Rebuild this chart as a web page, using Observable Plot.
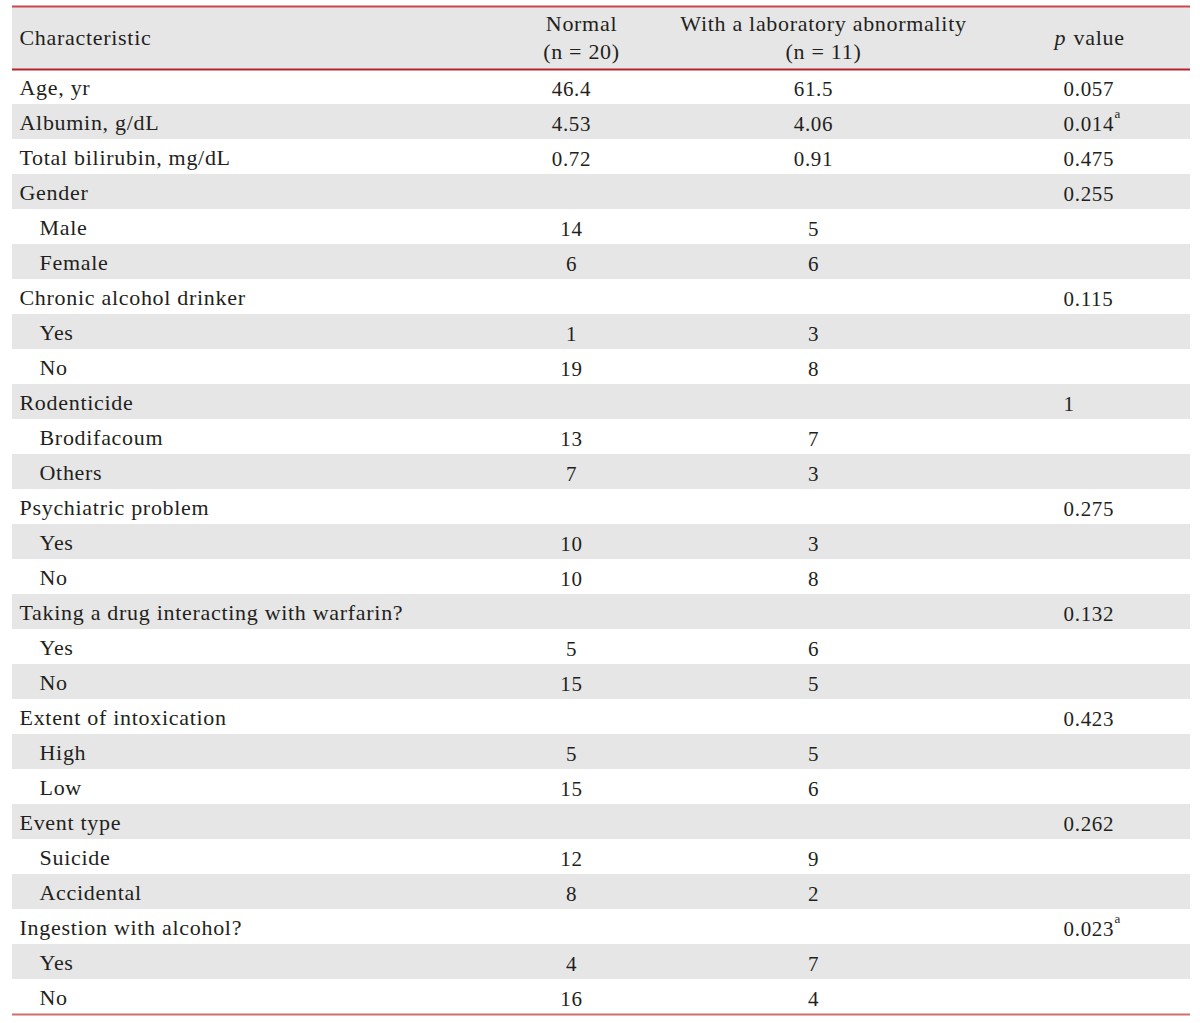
<!DOCTYPE html>
<html><head><meta charset="utf-8">
<script src="https://cdn.jsdelivr.net/npm/d3@7"></script>
<script src="https://cdn.jsdelivr.net/npm/@observablehq/plot@0.6"></script>
<style>
body{margin:0;background:#fff}
g[aria-label="numbers"] text{letter-spacing:0}
</style>
</head><body><div id="chart"></div>
<script>
// ---- data ----
const characteristics = [
  "Age, yr", "Albumin, g/dL", "Total bilirubin, mg/dL",
  "Gender", "Male", "Female",
  "Chronic alcohol drinker", "Yes", "No",
  "Rodenticide", "Brodifacoum", "Others",
  "Psychiatric problem", "Yes", "No",
  "Taking a drug interacting with warfarin?", "Yes", "No",
  "Extent of intoxication", "High", "Low",
  "Event type", "Suicide", "Accidental",
  "Ingestion with alcohol?", "Yes", "No"
];
const levels = [0,0,0, 0,1,1, 0,1,1, 0,1,1, 0,1,1, 0,1,1, 0,1,1, 0,1,1, 0,1,1];
const normalValues = ["46.4","4.53","0.72", "","14","6", "","1","19", "","13","7", "","10","10", "","5","15", "","5","15", "","12","8", "","4","16"];
const abnormalValues = ["61.5","4.06","0.91", "","5","6", "","3","8", "","7","3", "","3","8", "","6","5", "","5","6", "","9","2", "","7","4"];
const pValues = ["0.057","0.014","0.475", "0.255","","", "0.115","","", "1","","", "0.275","","", "0.132","","", "0.423","","", "0.262","","", "0.023","",""];
const footnotes = ["","a","", "","","", "","","", "","","", "","","", "","","", "","","", "","","", "a","",""];
const headerCharacteristic = "Characteristic";
const headerNormal = "Normal\n(n = 20)";
const headerAbnormal = "With a laboratory abnormality\n(n = 11)";
const headerP = "p";
const headerPRest = "value";

// ---- layout ----
const HEADER_UNITS = 1.8;
const INDENT = 20;
const rows = characteristics.map((c, i) => ({
  c, level: levels[i], normal: normalValues[i], abn: abnormalValues[i],
  p: pValues[i], fn: footnotes[i], stripe: i % 2 === 1,
  y1: HEADER_UNITS + i, y2: HEADER_UNITS + i + 1, ym: HEADER_UNITS + i + 0.5
}));
const total = HEADER_UNITS + rows.length;
const col = {char: 7, normal: 559, abn: 801, p: 1051};
const ink = "#231f20";
const font = "'Liberation Serif', 'Times New Roman', serif";
const FS = 22;
const NFS = 21;
const LS = "0.7px";

const chart = Plot.plot({
  width: 1200, height: 1023,
  marginLeft: 12, marginRight: 10, marginTop: 6, marginBottom: 9,
  x: {domain: [0, 1178], axis: null},
  y: {domain: [0, total], reverse: true, axis: null},
  style: {fontFamily: font, fontSize: FS + "px", color: ink, background: "#fff", letterSpacing: LS},
  marks: [
    Plot.rect([{y1: 0, y2: HEADER_UNITS}], {y1: "y1", y2: "y2", fill: "#e6e6e6"}),
    Plot.rect(rows.filter(d => d.stripe), {y1: "y1", y2: "y2", fill: "#e6e6e6"}),
    Plot.ruleY([0], {stroke: "#c9474f", strokeWidth: 2}),
    Plot.ruleY([HEADER_UNITS], {stroke: "#b5232d", strokeWidth: 2}),
    Plot.ruleY([total], {stroke: "#d46c6c", strokeWidth: 2}),
    // header
    Plot.text([headerCharacteristic], {x: col.char, y: HEADER_UNITS / 2, text: d => d, textAnchor: "start", fontSize: FS, fill: ink}),
    Plot.text([headerNormal], {x: col.normal + 10, y: HEADER_UNITS / 2, text: d => d, dy: -2, textAnchor: "middle", lineHeight: 1.3, fontSize: FS, fill: ink}),
    Plot.text([headerAbnormal], {x: col.abn + 10, y: HEADER_UNITS / 2, text: d => d, dy: -2, textAnchor: "middle", lineHeight: 1.3, fontSize: FS, fill: ink}),
    Plot.text([headerP], {x: col.p, y: HEADER_UNITS / 2, text: d => d, dx: -9, textAnchor: "start", fontStyle: "italic", fontSize: FS, fill: ink}),
    Plot.text([headerPRest], {x: col.p, y: HEADER_UNITS / 2, text: d => d, dx: 10, textAnchor: "start", fontSize: FS, fill: ink}),
    // body
    Plot.text(rows, {x: d => col.char + d.level * INDENT, y: "ym", text: "c", dy: 1, textAnchor: "start", fontSize: FS, fill: ink}),
    Plot.text(rows, {x: col.normal, y: "ym", text: "normal", dy: 2, textAnchor: "middle", fontSize: NFS, fill: ink, ariaLabel: "numbers"}),
    Plot.text(rows, {x: col.abn, y: "ym", text: "abn", dy: 2, textAnchor: "middle", fontSize: NFS, fill: ink, ariaLabel: "numbers"}),
    Plot.text(rows, {x: col.p, y: "ym", text: "p", dy: 2, textAnchor: "start", fontSize: NFS, fill: ink, ariaLabel: "numbers"}),
    Plot.text(rows.filter(d => d.fn), {x: col.p, y: "ym", text: "fn", dx: 51, dy: -8, textAnchor: "start", fontSize: 13, fill: ink, ariaLabel: "numbers"})
  ]
});
document.getElementById("chart").append(chart);
</script>
</body></html>
